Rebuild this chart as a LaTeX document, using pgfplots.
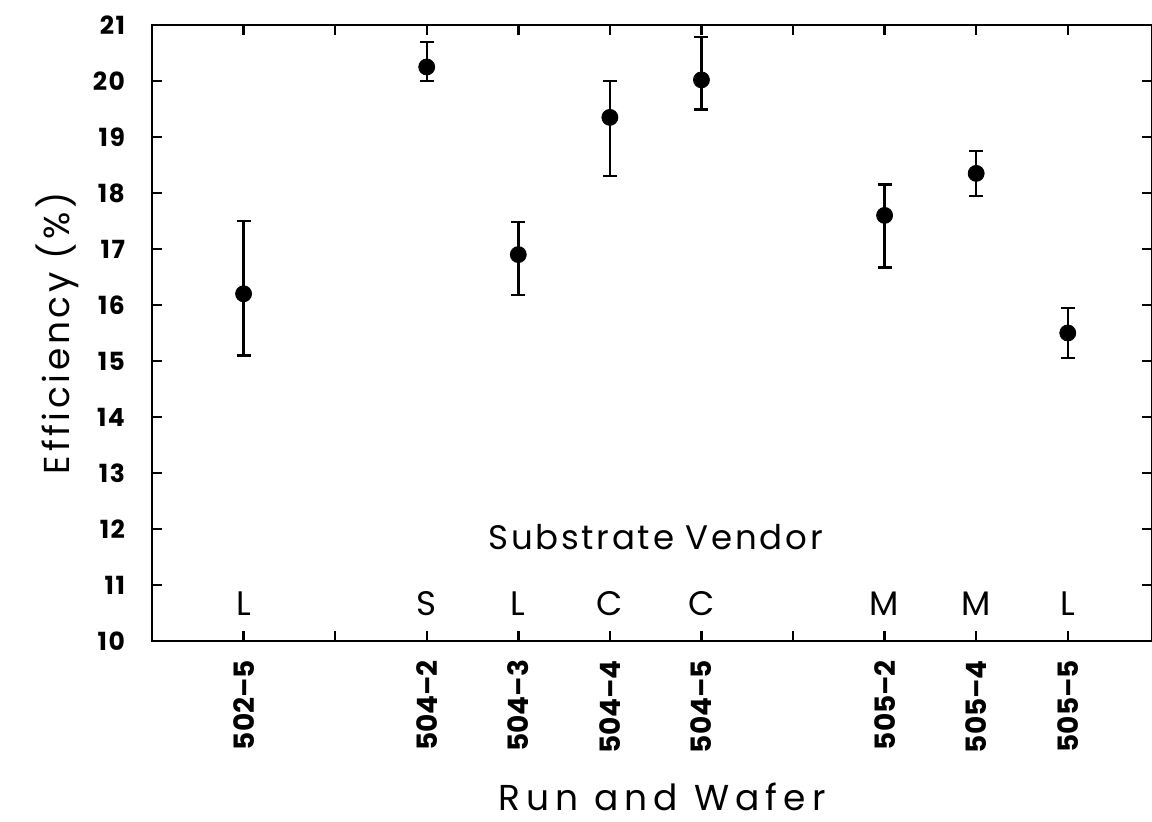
\documentclass[border=0pt]{standalone}
\usepackage{pgfplots}
\pgfplotsset{compat=1.18}
\usepackage{fontspec}
\setmainfont{Poppins}
\newfontfamily\tickfont[LetterSpace=6]{Poppins}
\newfontfamily\ylabfont[LetterSpace=10]{Poppins}
\newfontfamily\xlabfont[LetterSpace=17]{Poppins}
\newfontfamily\subfont[LetterSpace=8]{Poppins}
\begin{document}
\begin{tikzpicture}
\begin{axis}[
  name=ax,
  scale only axis,
  width=500pt, height=308pt,
  xmin=0, xmax=10.92,
  ymin=10, ymax=21,
  axis line style={line width=1.4pt},
  tick style={line width=1.2pt, black},
  tick align=inside,
  major tick length=5pt,
  xtick={1,2,3,4,5,6,7,8,9,10},
  xticklabels={502–5,,504–2,504–3,504–4,504–5,,505–2,505–4,505–5},
  xticklabel style={rotate=90, anchor=east, font=\fontsize{14}{15}\selectfont\bfseries, xshift=-6pt},
  ytick={10,11,...,21},
  yticklabel style={font=\tickfont\fontsize{12.5}{13}\selectfont\bfseries, xshift=-10pt},
  /pgf/number format/assume math mode=true,
  ylabel={Efficiency (\%)},
  ylabel style={font=\ylabfont\fontsize{18}{20}\selectfont},
  xlabel={Run and Wafer},
  xlabel style={font=\xlabfont\fontsize{18}{20}\selectfont, at={(axis description cs:0.5,0)}, anchor=center, inner sep=1pt, yshift=-78pt, xshift=5pt},
  clip=false,
]
\addplot[only marks, mark=*, mark size=4pt, black,
  error bars/.cd, y dir=both, y explicit,
  error bar style={line width=1.2pt, black},
  error mark options={rotate=90, mark size=3.5pt, line width=1.2pt, black}]
  table[x=x, y=y, y error plus=ep, y error minus=em] {
x y ep em
1 16.2 1.3 1.1
3 20.25 0.45 0.25
4 16.9 0.58 0.72
5 19.35 0.65 1.05
6 20.02 0.77 0.53
8 17.6 0.55 0.93
9 18.35 0.4 0.4
10 15.5 0.45 0.45
};
\node[font=\subfont\fontsize{17}{18}\selectfont] at (axis cs:5.5,11.86) {Substrate Vendor};
\node[font=\fontsize{17}{18}\selectfont] at (axis cs:1,10.66) {L};
\node[font=\fontsize{17}{18}\selectfont] at (axis cs:3,10.66) {S};
\node[font=\fontsize{17}{18}\selectfont] at (axis cs:4,10.66) {L};
\node[font=\fontsize{17}{18}\selectfont] at (axis cs:5,10.66) {C};
\node[font=\fontsize{17}{18}\selectfont] at (axis cs:6,10.66) {C};
\node[font=\fontsize{17}{18}\selectfont] at (axis cs:8,10.66) {M};
\node[font=\fontsize{17}{18}\selectfont] at (axis cs:9,10.66) {M};
\node[font=\fontsize{17}{18}\selectfont] at (axis cs:10,10.66) {L};
\end{axis}
\pgfresetboundingbox
\path[use as bounding box] (ax.south west) ++(-76pt,-90.5pt) rectangle ++(576pt,411pt);
\end{tikzpicture}
\end{document}
